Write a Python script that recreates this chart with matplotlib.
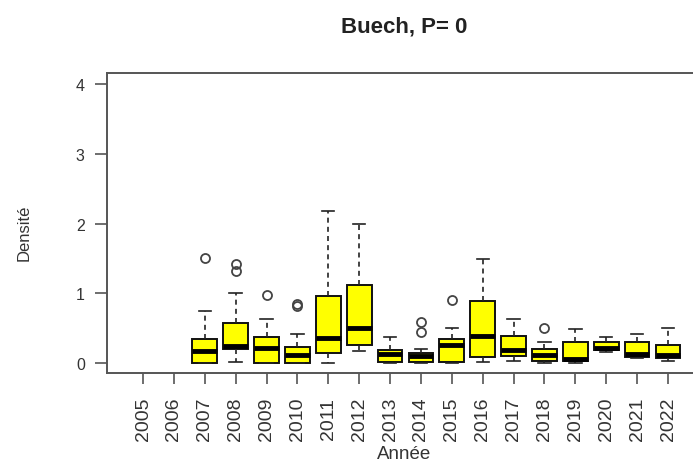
import matplotlib
matplotlib.use("Agg")
import matplotlib.pyplot as plt

plt.rcParams["font.family"] = ["Liberation Sans", "DejaVu Sans"]

# Densité par année (statistiques des boîtes)
years = [str(y) for y in range(2005, 2023)]
box_years = ["2007", "2008", "2009", "2010", "2011", "2012", "2013", "2014",
             "2015", "2016", "2017", "2018", "2019", "2020", "2021", "2022"]
whislo = [0.0, 0.01, 0.0, 0.0, 0.0, 0.17, 0.0, 0.0,
          0.0, 0.01, 0.03, 0.0, 0.0, 0.16, 0.07, 0.02]
q1 = [0.0, 0.2, 0.0, 0.0, 0.14, 0.25, 0.01, 0.01,
      0.01, 0.09, 0.1, 0.03, 0.03, 0.18, 0.08, 0.07]
med = [0.17, 0.24, 0.21, 0.12, 0.36, 0.5, 0.13, 0.1,
       0.26, 0.39, 0.19, 0.11, 0.05, 0.21, 0.13, 0.12]
q3 = [0.34, 0.57, 0.37, 0.23, 0.96, 1.12, 0.19, 0.14,
      0.34, 0.89, 0.39, 0.2, 0.3, 0.3, 0.3, 0.25]
whishi = [0.75, 1.0, 0.63, 0.42, 2.18, 2.0, 0.37, 0.2,
          0.5, 1.49, 0.63, 0.3, 0.49, 0.37, 0.41, 0.5]
fliers = [[1.5], [1.32, 1.42], [0.97], [0.82, 0.84], [], [], [], [0.44, 0.58],
          [0.9], [], [], [0.5], [], [], [], []]

stats = []
for i in range(len(box_years)):
    stats.append({"whislo": whislo[i], "q1": q1[i], "med": med[i],
                  "q3": q3[i], "whishi": whishi[i], "fliers": fliers[i]})
positions = [years.index(y) + 1 for y in box_years]

fig = plt.figure(figsize=(6.93, 4.64), dpi=100)
ax = fig.add_axes([0.1544, 0.194, 0.8615, 0.6465])

ax.bxp(stats, positions=positions, widths=0.8, patch_artist=True,
       boxprops=dict(facecolor="#ffff00", edgecolor="#111111", linewidth=1.4),
       medianprops=dict(color="black", linewidth=3.5),
       whiskerprops=dict(color="#222222", linestyle=(0, (3, 2.5)), linewidth=1.2),
       capprops=dict(color="#222222", linewidth=1.2),
       capwidths=0.4,
       flierprops=dict(marker="o", markerfacecolor="none",
                       markeredgecolor="#444444", markersize=6.5, markeredgewidth=1.3))

ax.set_xlim(1 - 1.166, len(years) + 1.166)
ax.set_ylim(-0.145, 4.16)
ax.set_xticks(range(1, len(years) + 1))
ax.set_xticklabels(years, rotation=90, fontsize=14, color="#333333")
ax.set_yticks([0, 1, 2, 3, 4])
ax.set_yticklabels(["0", "1", "2", "3", "4"], fontsize=11.5, color="#333333")
ax.tick_params(axis="x", direction="out", length=8, width=1.2, colors="#555555",
               labelcolor="#333333", pad=9)
ax.tick_params(axis="y", direction="out", length=9, width=1.2, colors="#555555",
               labelcolor="#333333", pad=7)
for side in ["top", "left", "bottom"]:
    ax.spines[side].set_color("#555555")
    ax.spines[side].set_linewidth(1.4)
ax.spines["right"].set_visible(False)

fig.text(24.5 / 693, 1 - 233 / 464, "Densité", rotation=90, fontsize=12,
         color="#333333", ha="center", va="center")
fig.text(404 / 693, 1 - 459 / 464, "Année", fontsize=13.5, color="#333333",
         ha="center", va="baseline")
fig.text(404 / 693, 1 - 33 / 464, "Buech, P= 0", fontsize=16, fontweight="bold",
         color="#222222", ha="center", va="baseline")

fig.savefig("out.png", dpi=100)
